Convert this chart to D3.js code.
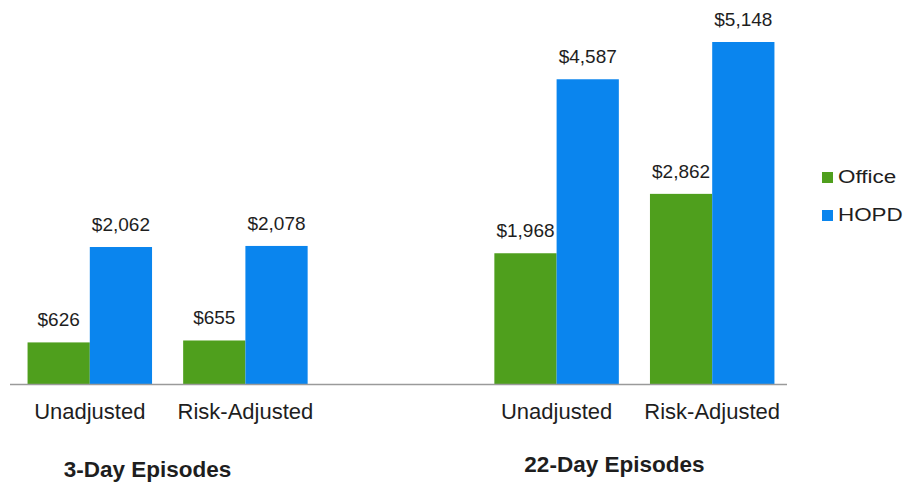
<!DOCTYPE html>
<html>
<head>
<meta charset="utf-8">
<script src="https://cdn.jsdelivr.net/npm/d3@7/dist/d3.min.js"></script>
<style>
  html, body { margin: 0; padding: 0; background: #fff; }
  svg { display: block; font-family: "Liberation Sans", Arial, sans-serif; }
</style>
</head>
<body>
<svg id="chart" width="906" height="483"></svg>
<script>
// Episode spending by site of service
const categories = ["Unadjusted", "Risk-Adjusted", "", "Unadjusted", "Risk-Adjusted"];
const series = ["Office", "HOPD"];
const officeValues = [626, 655, null, 1968, 2862];
const hopdValues = [2062, 2078, null, 4587, 5148];
const groupTitles = ["3-Day Episodes", "22-Day Episodes"];
const groupSlots = [[0, 1], [3, 4]];
const colors = { Office: "#4f9f1d", HOPD: "#0a85ee" };

const svg = d3.select("#chart");
const baseY = 384, topY = 42;

const x = d3.scaleBand()
  .domain(d3.range(categories.length))
  .range([12, 790])
  .paddingInner(0.2)
  .paddingOuter(0.1);

const xSub = d3.scaleBand()
  .domain(series)
  .range([0, x.bandwidth()]);

const yMax = d3.max(hopdValues.concat(officeValues));
const y = d3.scaleLinear().domain([0, yMax]).range([baseY, topY]);

const rows = [];
categories.forEach((c, i) => {
  if (officeValues[i] == null) return;
  rows.push({ i, s: "Office", v: officeValues[i] });
  rows.push({ i, s: "HOPD", v: hopdValues[i] });
});

const fmt = d => "$" + d3.format(",")(d);

// bars
svg.append("g").selectAll("rect").data(rows).join("rect")
  .attr("x", d => x(d.i) + xSub(d.s))
  .attr("y", d => y(d.v))
  .attr("width", xSub.bandwidth())
  .attr("height", d => y(0) - y(d.v))
  .attr("fill", d => colors[d.s]);

// baseline
svg.append("line")
  .attr("x1", 10).attr("x2", 787)
  .attr("y1", y(0) + 0.5).attr("y2", y(0) + 0.5)
  .attr("stroke", "#9a9a9a").attr("stroke-width", 1.5);

// value labels
svg.append("g").selectAll("text").data(rows).join("text")
  .attr("x", d => x(d.i) + xSub(d.s) + xSub.bandwidth() / 2)
  .attr("y", d => y(d.v) - 16)
  .attr("text-anchor", "middle")
  .attr("font-size", 19)
  .attr("fill", "#1e1e1e")
  .text(d => fmt(d.v));

// category labels
svg.append("g").selectAll("text")
  .data(categories.map((c, i) => ({ c, i })).filter(d => d.c))
  .join("text")
  .attr("x", d => x(d.i) + x.bandwidth() / 2)
  .attr("y", 419)
  .attr("text-anchor", "middle")
  .attr("font-size", 22)
  .attr("fill", "#1e1e1e")
  .text(d => d.c);

// group titles
const titleY = [477, 472];
svg.append("g").selectAll("text").data(groupTitles).join("text")
  .attr("x", (t, k) => {
    const [a, b] = groupSlots[k];
    return (x(a) + x(b) + x.bandwidth()) / 2 - 20;
  })
  .attr("y", (t, k) => titleY[k])
  .attr("text-anchor", "middle")
  .attr("font-size", 22.5)
  .attr("font-weight", "bold")
  .attr("fill", "#1e1e1e")
  .text(t => t);

// legend
const legend = svg.append("g").attr("transform", "translate(822,172)");
const item = legend.selectAll("g").data(series).join("g")
  .attr("transform", (d, k) => `translate(0,${k * 38})`);
item.append("rect")
  .attr("width", 11).attr("height", 11)
  .attr("fill", d => colors[d]);
item.append("text")
  .attr("transform", "translate(16,11) scale(1.18,1)")
  .attr("font-size", 19)
  .attr("fill", "#1e1e1e")
  .text(d => d);
</script>
</body>
</html>
